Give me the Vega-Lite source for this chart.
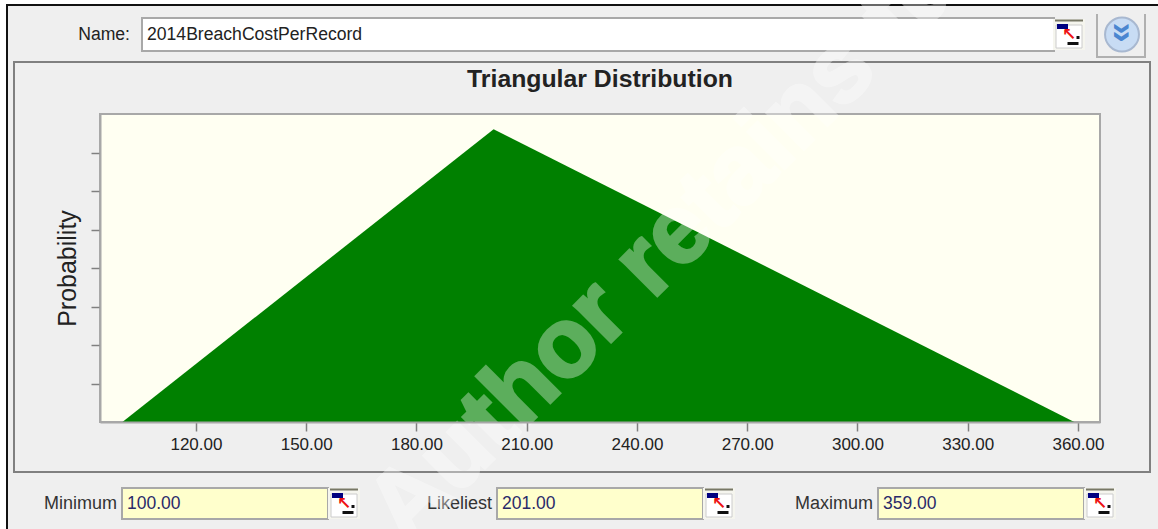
{
"$schema":"https://vega.github.io/schema/vega-lite/v6.json",
"width":1000,"height":308,"autosize":"none",
"padding":{"left":100,"top":114,"right":58,"bottom":107},
"background":"#ffffff",
"config":{"view":{"stroke":null},"font":"Liberation Sans"},
"datasets":{
"fields":[{"part":"Minimum","label":"Minimum","value":"100.00"},{"part":"Likeliest","label":"Likeliest","value":"201.00"},{"part":"Maximum","label":"Maximum","value":"359.00"}],
"name":[{"part":"Name","label":"Name:","value":"2014BreachCostPerRecord"}],
"density":[{"cost":100,"p":0},{"cost":201,"p":0.00772},{"cost":359,"p":0}],
"chrome":[{"title":"Triangular Distribution"}],
"mark":[{"text":"Author retains full rights"}]
},
"layer":[
{"data":{"name":"chrome"},
"encoding":{
"x":{"datum":"o","type":"nominal","axis":null,"scale":{"type":"point","padding":0,"domain":["o"],"range":[0,0]}},
"y":{"datum":"o","type":"nominal","axis":null,"scale":{"type":"point","padding":0,"domain":["o"],"range":[0,0]}}
},
"layer":[
{"mark":{"type":"rect","fill":"#efefef","stroke":"#111111","strokeWidth":2,"width":1158,"height":530,"xOffset":486,"yOffset":156}},
{"mark":{"type":"rect","fill":"#efefef","stroke":"#808080","strokeWidth":2,"width":1136,"height":410,"xOffset":482,"yOffset":153}},
{"mark":{"type":"rect","fill":"#fffff2","stroke":"#a8a8a8","strokeWidth":2,"width":1000,"height":308,"xOffset":500,"yOffset":154}},
{"mark":{"type":"rect","fill":"#ffffff","stroke":"#a8a8a8","strokeWidth":2,"width":912,"height":33,"xOffset":498,"yOffset":-79.5}},
{"mark":{"type":"rect","fill":"#efefef","stroke":"#b0b0b0","strokeWidth":2,"width":48,"height":45,"xOffset":1021,"yOffset":-79.5}},
{"mark":{"type":"rect","fill":"#efefef","width":52,"height":4,"xOffset":1021,"yOffset":-102}},
{"mark":{"type":"text","align":"center","baseline":"middle","font":"Liberation Sans","fontWeight":"bold","fontSize":24.8,"color":"#222222","xOffset":500,"yOffset":-34},"encoding":{"text":{"field":"title"}}}
]},
{"data":{"name":"density"},"mark":{"type":"area","color":"#008000","interpolate":"linear"},
"encoding":{
"x":{"field":"cost","type":"quantitative","scale":{"domain":[93.9,366],"nice":false,"zero":false},
"axis":{"title":null,"values":[120,150,180,210,240,270,300,330,360],"format":".2f","grid":false,"labelFont":"Liberation Sans","labelFontSize":17,"labelColor":"#222222","labelPadding":5,"tickColor":"#808080","tickSize":9,"tickWidth":1.5,"domainColor":"#a8a8a8","domainWidth":2,"zindex":1,"labelFlush":false,"labelOverlap":false}},
"y":{"field":"p","type":"quantitative","scale":{"domain":[0,0.00812],"nice":false},
"axis":{"title":"Probability","titleFont":"Liberation Sans","titleFontSize":25,"titleFontWeight":"normal","titleColor":"#222222","titlePadding":10,"labels":false,"values":[0.001015,0.00203,0.003045,0.00406,0.005075,0.00609,0.007105],"grid":false,"tickColor":"#808080","tickSize":9,"tickWidth":1.5,"domainColor":"#a8a8a8","domainWidth":2,"zindex":1}}
}},
{"data":{"name":"fields"},
"encoding":{
"x":{"field":"part","type":"nominal","axis":null,"scale":{"type":"point","padding":0,"domain":["Minimum","Likeliest","Maximum"],"range":[22,778]}},
"y":{"datum":"row","type":"nominal","axis":null,"scale":{"type":"point","padding":0,"domain":["row"],"range":[389.5,389.5]}}
},
"layer":[
{"mark":{"type":"rect","fill":"#ffffcc","stroke":"#a8a8a8","strokeWidth":2,"width":206,"height":31,"xOffset":{"expr":"103+(datum.part==='Likeliest'?-3:0)"}}},
{"mark":{"type":"text","align":"left","baseline":"middle","font":"Liberation Sans","fontSize":17.5,"color":"#2a2a6a","xOffset":{"expr":"5+(datum.part==='Likeliest'?-3:0)"}},"encoding":{"text":{"field":"value"}}},
{"mark":{"type":"text","align":"right","baseline":"middle","font":"Liberation Sans","fontSize":18,"color":"#333333","xOffset":{"expr":"-5+(datum.part==='Likeliest'?-3:0)"}},"encoding":{"text":{"field":"label"}}},
{"mark":{"type":"rect","fill":"#f5f5ee","width":32,"height":31,"xOffset":{"expr":"222+(datum.part==='Likeliest'?-3:0)"}}},
{"mark":{"type":"rect","fill":"#ffffff","stroke":"#cccccc","width":26,"height":23,"yOffset":2,"xOffset":{"expr":"222+(datum.part==='Likeliest'?-3:0)"}}},
{"mark":{"type":"rect","fill":"#777766","width":28,"height":2,"yOffset":-14,"xOffset":{"expr":"222+(datum.part==='Likeliest'?-3:0)"}}},
{"mark":{"type":"rect","fill":"#000080","width":11,"height":5,"yOffset":-8,"xOffset":{"expr":"215.5+(datum.part==='Likeliest'?-3:0)"}}},
{"mark":{"type":"rect","fill":"#111111","width":11,"height":3,"yOffset":9,"xOffset":{"expr":"226+(datum.part==='Likeliest'?-3:0)"}}},
{"mark":{"type":"rect","fill":"#111111","width":3,"height":3,"yOffset":3,"xOffset":{"expr":"231+(datum.part==='Likeliest'?-3:0)"}}},
{"mark":{"type":"text","text":"↖","align":"center","baseline":"middle","font":"DejaVu Sans","fontWeight":"bold","fontSize":17,"color":"#ee1111","yOffset":0,"xOffset":{"expr":"222+(datum.part==='Likeliest'?-3:0)"}}}
]},
{"data":{"name":"name"},
"encoding":{
"x":{"field":"part","type":"nominal","axis":null,"scale":{"type":"point","padding":0,"domain":["Name"],"range":[42,42]}},
"y":{"datum":"row","type":"nominal","axis":null,"scale":{"type":"point","padding":0,"domain":["row"],"range":[-79.5,-79.5]}}
},
"layer":[
{"mark":{"type":"text","align":"left","baseline":"middle","font":"Liberation Sans","fontSize":17.6,"color":"#222222","xOffset":5},"encoding":{"text":{"field":"value"}}},
{"mark":{"type":"text","align":"right","baseline":"middle","font":"Liberation Sans","fontSize":17.6,"color":"#222222","xOffset":-12},"encoding":{"text":{"field":"label"}}},
{"mark":{"type":"rect","fill":"#f5f5ee","width":32,"height":31,"xOffset":927}},
{"mark":{"type":"rect","fill":"#ffffff","stroke":"#cccccc","width":26,"height":23,"yOffset":2,"xOffset":927}},
{"mark":{"type":"rect","fill":"#777766","width":28,"height":2,"yOffset":-14,"xOffset":927}},
{"mark":{"type":"rect","fill":"#000080","width":11,"height":5,"yOffset":-8,"xOffset":920.5}},
{"mark":{"type":"rect","fill":"#111111","width":11,"height":3,"yOffset":9,"xOffset":931}},
{"mark":{"type":"rect","fill":"#111111","width":3,"height":3,"yOffset":3,"xOffset":936}},
{"mark":{"type":"text","text":"↖","align":"center","baseline":"middle","font":"DejaVu Sans","fontWeight":"bold","fontSize":17,"color":"#ee1111","xOffset":927}},
{"mark":{"type":"point","filled":true,"shape":"circle","size":1150,"fill":"#c8dcf4","stroke":"#a8b8d0","opacity":1,"xOffset":980}},
{"mark":{"type":"text","text":"»","align":"center","baseline":"middle","font":"Liberation Sans","fontWeight":"bold","fontSize":36,"angle":90,"color":"#4a86d0","xOffset":980,"yOffset":-2}}
]},
{"data":{"name":"mark"},"mark":{"type":"text","align":"center","baseline":"middle","font":"Liberation Sans","fontWeight":"bold","fontSize":98,"angle":315,"color":"#ffffff","stroke":"#ffffff","strokeWidth":3,"opacity":0.36},
"encoding":{
"text":{"field":"text"},
"x":{"datum":"w","type":"nominal","axis":null,"scale":{"type":"point","padding":0,"domain":["w"],"range":[690,690]}},
"y":{"datum":"w","type":"nominal","axis":null,"scale":{"type":"point","padding":0,"domain":["w"],"range":[8,8]}}
}}
],
"resolve":{"scale":{"x":"independent","y":"independent"},"axis":{"x":"independent","y":"independent"}}
}
